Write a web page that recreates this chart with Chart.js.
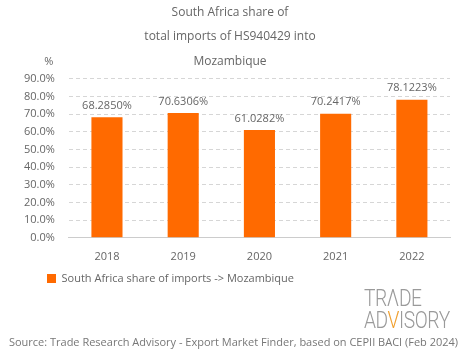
<!DOCTYPE html>
<html>
<head>
<meta charset="utf-8">
<script src="https://cdn.jsdelivr.net/npm/chart.js@4.4.0/dist/chart.umd.min.js"></script>
<style>
  html, body { margin: 0; padding: 0; background: #fff; }
  #wrap { position: relative; width: 465px; height: 359px; }
  #logo { position: absolute; left: 364px; top: 287px; font-family: Roboto, sans-serif; font-weight: 300;
          color: #9a9a9a; font-size: 24px; line-height: 22px; transform: scaleX(0.8); transform-origin: left top; letter-spacing: -0.5px; }
  #logo .o { color: #f0a030; }
</style>
</head>
<body>
<div id="wrap">
  <canvas id="shareChart" width="465" height="359"></canvas>
  <div id="logo">TRΛDE<br>AD<span class="o">V</span>ISORY</div>
</div>
<script>
const years = ['2018', '2019', '2020', '2021', '2022'];
const shares = [68.2850, 70.6306, 61.0282, 70.2417, 78.1223];
const titleLines = ['South Africa share of', 'total imports of HS940429 into', 'Mozambique'];
const seriesName = 'South Africa share of imports -> Mozambique';
const sourceText = 'Source: Trade Research Advisory - Export Market Finder, based on CEPII BACI (Feb 2024)';

const textColor = '#666';
const fontFamily = "'Open Sans', sans-serif";

const extras = {
    id: 'extras',
    afterLayout: chart => {
        // legend sits under the plot, not at the canvas edge
        chart.legend.left += 31;
        chart.legend.right += 31;
    },
    afterDatasetsDraw: chart => {
        const ctx = chart.ctx;
        ctx.save();
        ctx.fillStyle = textColor;
        ctx.font = '11px ' + fontFamily;
        ctx.textAlign = 'center';
        ctx.textBaseline = 'bottom';
        chart.getDatasetMeta(0).data.forEach((bar, i) => {
            ctx.fillText(shares[i].toFixed(4) + '%', bar.x, bar.y - 6);
        });
        // axis unit
        ctx.textBaseline = 'middle';
        ctx.fillText('%', chart.chartArea.left - 20, chart.chartArea.top - 17);
        // source line
        ctx.fillStyle = '#777';
        ctx.font = '11px ' + fontFamily;
        ctx.fillText(sourceText, chart.width / 2 + 1, 343);
        ctx.restore();
    }
};

new Chart(document.getElementById('shareChart').getContext('2d'), {
    type: 'bar',
    data: {
        labels: years,
        datasets: [{
            label: seriesName,
            data: shares,
            backgroundColor: '#ff6a00',
            barPercentage: 0.51,
            categoryPercentage: 0.8
        }]
    },
    options: {
        responsive: false,
        animation: false,
        layout: { padding: { left: 10, right: 15, top: 0, bottom: 65 } },
        scales: {
            x: {
                grid: { display: false },
                border: { color: '#ccc' },
                ticks: { color: textColor, font: { family: fontFamily, size: 11 }, padding: 4 }
            },
            y: {
                min: 0,
                max: 90,
                border: { display: true, color: 'rgba(0,0,0,0)', dash: [4, 3] },
                grid: { color: '#d6d6d6', drawTicks: false, tickLength: 0 },
                ticks: {
                    stepSize: 10,
                    padding: 14,
                    color: textColor,
                    font: { family: fontFamily, size: 11 },
                    callback: v => v.toFixed(1) + '%'
                }
            }
        },
        plugins: {
            title: {
                display: true,
                text: titleLines,
                color: textColor,
                font: { family: fontFamily, size: 12, weight: 'normal', lineHeight: 2.05 },
                padding: { top: 0, bottom: 5 }
            },
            legend: {
                position: 'bottom',
                align: 'start',
                labels: {
                    color: textColor,
                    font: { family: fontFamily, size: 11 },
                    boxWidth: 9,
                    boxHeight: 9,
                    padding: 6
                }
            },
            tooltip: { enabled: false }
        }
    },
    plugins: [extras]
});
</script>
</body>
</html>
